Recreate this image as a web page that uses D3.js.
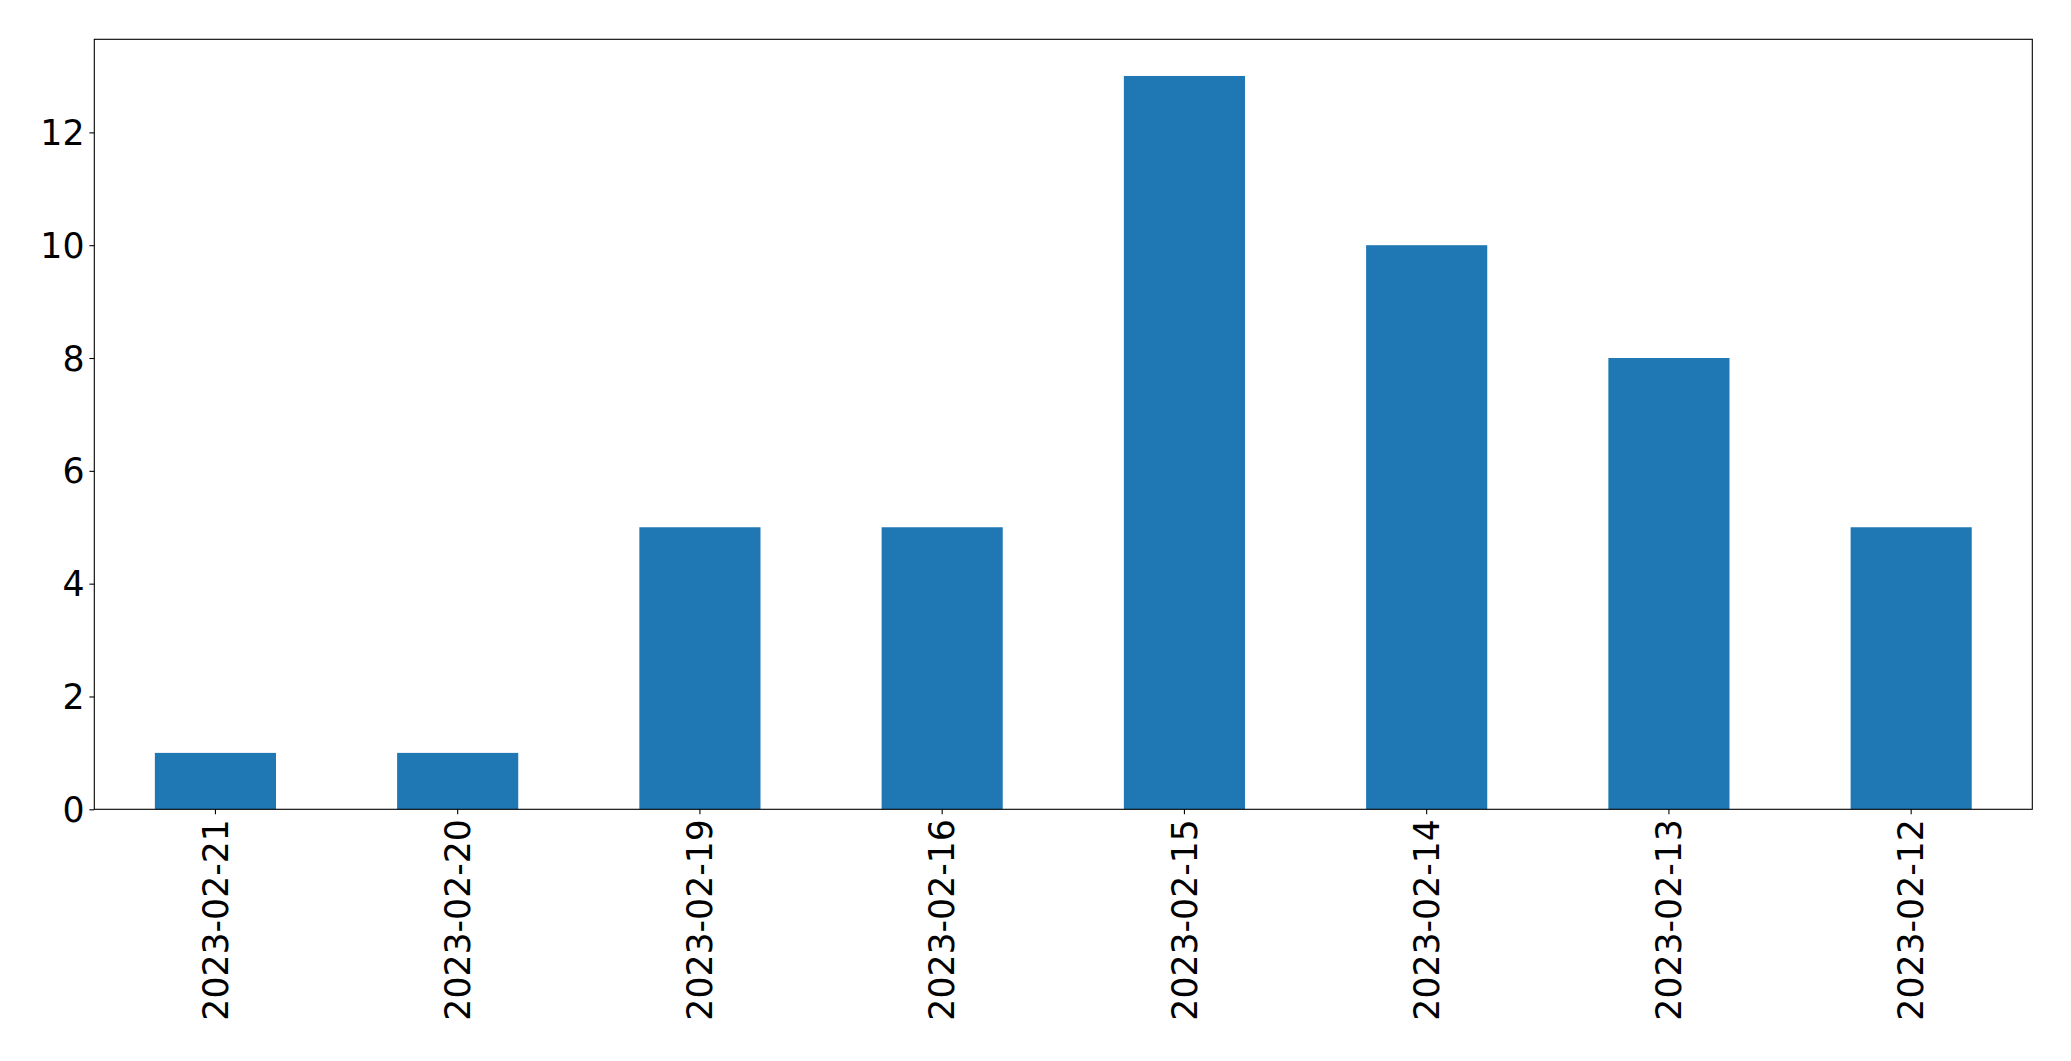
<!DOCTYPE html>
<html>
<head>
<meta charset="utf-8">
<script src="https://cdn.jsdelivr.net/npm/d3@7"></script>
<style>
  html, body { margin: 0; padding: 0; background: #fff; }
  svg { display: block; }
  text { font-family: "DejaVu Sans", sans-serif; fill: #000; }
</style>
</head>
<body>
<svg id="chart" width="2071" height="1061"></svg>
<script>
const categories = ["2023-02-21", "2023-02-20", "2023-02-19", "2023-02-16", "2023-02-15", "2023-02-14", "2023-02-13", "2023-02-12"];
const values = [1, 1, 5, 5, 13, 10, 8, 5];
const yTicks = [0, 2, 4, 6, 8, 10, 12];

(function () {
const mLeft = 94.3, mRight = 2032.3, mTop = 39.3, mBottom = 809.3;
const fontSize = 34.7;
const tickLen = 4.9, tickPad = 4.9;

const svg = d3.select("#chart");

const x = d3.scaleBand().domain(categories).range([mLeft, mRight]).paddingInner(0.5).paddingOuter(0.25);
const yMax = d3.max(values) * 1.05;
const y = d3.scaleLinear().domain([0, yMax]).range([mBottom, mTop]);

svg.append("g")
  .selectAll("rect")
  .data(values)
  .join("rect")
  .attr("x", (d, i) => x(categories[i]))
  .attr("width", x.bandwidth())
  .attr("y", d => y(d))
  .attr("height", d => y(0) - y(d))
  .attr("fill", "#1f77b4");

// Y axis
const yAxis = d3.axisLeft(y).tickValues(yTicks).tickSize(tickLen).tickPadding(tickPad).tickFormat(d3.format("d"));
const gy = svg.append("g").attr("transform", `translate(${mLeft},0)`).call(yAxis);
gy.select(".domain").remove();
gy.selectAll(".tick line").attr("stroke", "#000").attr("stroke-width", 1.1);
gy.selectAll(".tick text").attr("font-size", fontSize).attr("font-family", "DejaVu Sans, sans-serif").attr("dy", "0.35em");

// X axis
const xAxis = d3.axisBottom(x).tickSize(tickLen).tickPadding(tickPad);
const gx = svg.append("g").attr("transform", `translate(0,${mBottom})`).call(xAxis);
gx.select(".domain").remove();
gx.selectAll(".tick line").attr("stroke", "#000").attr("stroke-width", 1.1);
gx.selectAll(".tick text")
  .attr("font-size", fontSize)
  .attr("font-family", "DejaVu Sans, sans-serif")
  .attr("text-anchor", "end")
  .attr("x", 0)
  .attr("y", 0)
  .attr("dy", "0.35em")
  .attr("transform", `translate(0,${tickLen + tickPad}) rotate(-90)`);

// Frame
svg.append("rect")
  .attr("x", mLeft).attr("y", mTop)
  .attr("width", mRight - mLeft).attr("height", mBottom - mTop)
  .attr("fill", "none").attr("stroke", "#000").attr("stroke-width", 1.1);
})();
</script>
</body>
</html>
